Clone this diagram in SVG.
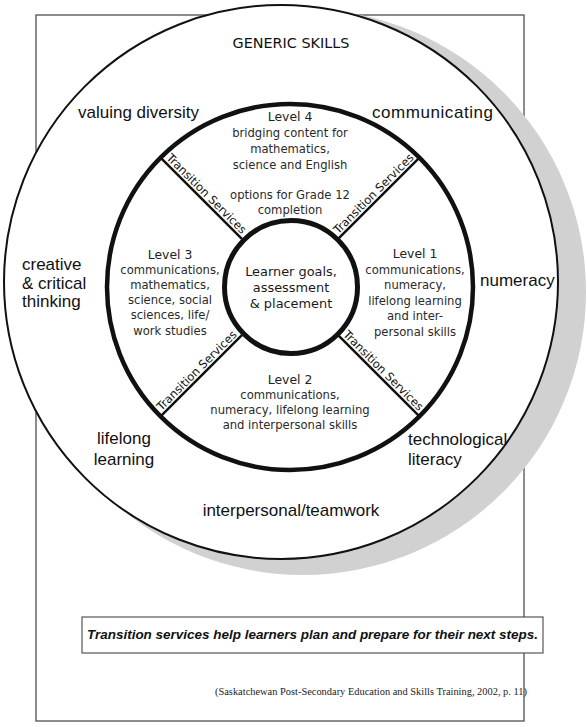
<svg xmlns="http://www.w3.org/2000/svg" width="587" height="727" viewBox="0 0 587 727">
<style>
.outer{font-family:"Liberation Sans",Arial,sans-serif;font-size:17px;fill:#111}
.lvl{font-family:"DejaVu Sans",sans-serif;font-size:11.6px;fill:#2a2a2a;text-anchor:middle}
.head{font-size:12.4px;fill:#222}
.ts{font-family:"DejaVu Sans",sans-serif;font-size:11.5px;fill:#111;text-anchor:middle}
.ring{fill:none;stroke:#111}
.conn{stroke:#111;stroke-width:2.5}
</style>
<rect width="587" height="727" fill="#fff"/>
<g id="frame">
<rect x="36" y="15" width="488" height="706" fill="#fff" stroke="#666" stroke-width="1.5"/>
</g>
<g id="generic-skills">
<circle cx="303" cy="292" r="283" fill="#d1d1d1"/>
<circle cx="281" cy="282" r="277" fill="#fff" stroke="#111" stroke-width="2"/>
<text x="291" y="48" font-family="DejaVu Sans,sans-serif" font-size="14.4" fill="#111" text-anchor="middle">GENERIC SKILLS</text>
<text class="outer" x="78" y="118">valuing diversity</text>
<text class="outer" x="372" y="118" textLength="121">communicating</text>
<text class="outer" x="22" y="270">creative</text>
<text class="outer" x="22" y="289">&amp; critical</text>
<text class="outer" x="22" y="307">thinking</text>
<text class="outer" x="480" y="286">numeracy</text>
<text class="outer" x="124" y="444" text-anchor="middle">lifelong</text>
<text class="outer" x="124" y="465" text-anchor="middle">learning</text>
<text class="outer" x="408" y="445">technological</text>
<text class="outer" x="408" y="465">literacy</text>
<text class="outer" x="291" y="516" text-anchor="middle">interpersonal/teamwork</text>
</g>
<g id="levels-ring">
<circle class="ring" cx="290" cy="287" r="183" stroke-width="4.5"/>
</g>
<g id="connectors">
<line class="conn" x1="241.9" y1="238.9" x2="161.3" y2="158.3"/>
<line class="conn" x1="338.1" y1="238.9" x2="418.7" y2="158.3"/>
<line class="conn" x1="241.9" y1="335.1" x2="161.3" y2="415.7"/>
<line class="conn" x1="338.1" y1="335.1" x2="418.7" y2="415.7"/>
<text class="ts" transform="translate(201.6,198.6) rotate(45)" y="-3">Transition Services</text>
<text class="ts" transform="translate(378.4,198.6) rotate(-45)" y="-3">Transition Services</text>
<text class="ts" transform="translate(201.6,375.4) rotate(-45)" y="-3">Transition Services</text>
<text class="ts" transform="translate(378.4,375.4) rotate(45)" y="-3">Transition Services</text>
</g>
<g id="level-4" class="lvl">
<text class="head" x="290" y="121">Level 4</text>
<text x="290" y="137">bridging content for</text>
<text x="290" y="153">mathematics,</text>
<text x="290" y="169">science and English</text>
<text x="290" y="199">options for Grade 12</text>
<text x="290" y="214">completion</text>
</g>
<g id="level-3" class="lvl">
<text class="head" x="170" y="259">Level 3</text>
<text x="170" y="274">communications,</text>
<text x="170" y="289">mathematics,</text>
<text x="170" y="304">science, social</text>
<text x="170" y="319">sciences, life/</text>
<text x="170" y="335">work studies</text>
</g>
<g id="level-1" class="lvl">
<text class="head" x="415" y="258">Level 1</text>
<text x="415" y="273.5">communications,</text>
<text x="415" y="289">numeracy,</text>
<text x="415" y="304.5">lifelong learning</text>
<text x="415" y="320">and inter-</text>
<text x="415" y="335.5">personal skills</text>
</g>
<g id="level-2" class="lvl">
<text class="head" x="290" y="384">Level 2</text>
<text x="290" y="399">communications,</text>
<text x="290" y="414">numeracy, lifelong learning</text>
<text x="290" y="429">and interpersonal skills</text>
</g>
<g id="center">
<circle cx="291" cy="287" r="66.5" fill="#fff" stroke="#111" stroke-width="5"/>
<g class="lvl" style="font-size:12.9px;fill:#1a1a1a">
<text x="291" y="276">Learner goals,</text>
<text x="291" y="292">assessment</text>
<text x="291" y="308">&amp; placement</text>
</g>
</g>
<g id="caption">
<rect x="82" y="617" width="461" height="36" fill="#fff" stroke="#555" stroke-width="1.2"/>
<text x="312.5" y="639" font-family="Liberation Sans,Arial,sans-serif" font-size="13" font-weight="bold" font-style="italic" fill="#111" text-anchor="middle" textLength="451" lengthAdjust="spacingAndGlyphs">Transition services help learners plan and prepare for their next steps.</text>
</g>
<g id="citation">
<text x="215" y="695" font-family="Liberation Serif,Times New Roman,serif" font-size="10.5" fill="#222" textLength="312" lengthAdjust="spacingAndGlyphs">(Saskatchewan Post-Secondary Education and Skills Training, 2002, p. 11)</text>
</g>
</svg>
